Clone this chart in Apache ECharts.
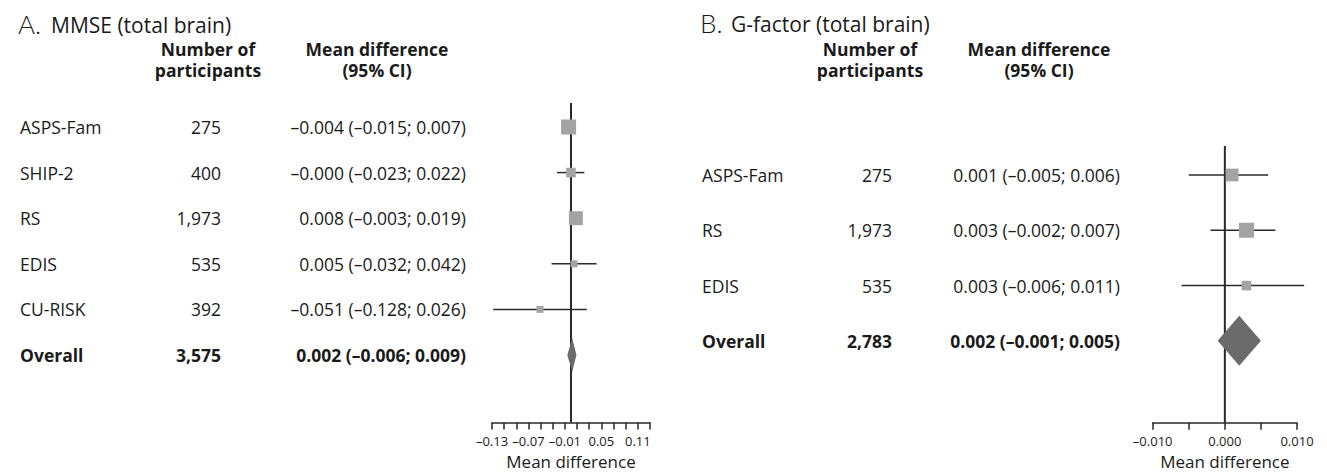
<!DOCTYPE html>
<html>
<head>
<meta charset="utf-8">
<script src="https://cdn.jsdelivr.net/npm/echarts@6/dist/echarts.min.js"></script>
<style>
html,body{margin:0;padding:0;background:#fff;}
#chart{width:1327px;height:476px;}
</style>
</head>
<body>
<div id="chart"></div>
<script>
// ---------- Panel A: MMSE (total brain) ----------
const studiesA = ['ASPS-Fam', 'SHIP-2', 'RS', 'EDIS', 'CU-RISK'];
const participantsA = [275, 400, 1973, 535, 392];
const meanA = [-0.004, -0.000, 0.008, 0.005, -0.051];
const lowerA = [-0.015, -0.023, -0.003, -0.032, -0.128];
const upperA = [0.007, 0.022, 0.019, 0.042, 0.026];
const weightA = [37, 15, 32, 8, 8];            // estimated study weights (%), box area
const overallLabelA = 'Overall';
const overallParticipantsA = 3575;
const overallA = [0.002, -0.006, 0.009];       // mean, lower, upper
const tickValuesA = [-0.13, -0.11, -0.09, -0.07, -0.05, -0.03, -0.01, 0.01, 0.03, 0.05, 0.07, 0.09, 0.11, 0.13];
const tickLabelsA = [-0.13, -0.07, -0.01, 0.05, 0.11];

// ---------- Panel B: G-factor (total brain) ----------
const studiesB = ['ASPS-Fam', 'RS', 'EDIS'];
const participantsB = [275, 1973, 535];
const meanB = [0.001, 0.003, 0.003];
const lowerB = [-0.005, -0.002, -0.006];
const upperB = [0.006, 0.007, 0.011];
const weightB = [34, 47, 19];
const overallLabelB = 'Overall';
const overallParticipantsB = 2783;
const overallB = [0.002, -0.001, 0.005];
const tickValuesB = [-0.010, -0.005, 0.000, 0.005, 0.010];
const tickLabelsB = [-0.010, 0.000, 0.010];

const titleLetterA = 'A.', titleTextA = 'MMSE (total brain)';
const titleLetterB = 'B.', titleTextB = 'G-factor (total brain)';
const headerN = ['Number of', 'participants'];
const headerMD = ['Mean difference', '(95% CI)'];
const axisName = 'Mean difference';

// ---------- helpers ----------
const FONT = '"Open Sans", "Noto Sans", sans-serif';
const TXT = '#1a1a1a';
function fmt(v, d) {
  const neg = v < 0 || Object.is(v, -0);
  return (neg ? '\u2013' : '') + Math.abs(v).toFixed(d);
}
function ci(m, lo, hi) { return fmt(m, 3) + ' (' + fmt(lo, 3) + '; ' + fmt(hi, 3) + ')'; }
function num(n) { return n.toLocaleString('en-US'); }

const chart = echarts.init(document.getElementById('chart'), null, { renderer: 'svg' });

function panel(idx, cfg) {
  const nRows = cfg.studies.length;
  const maxW = Math.max.apply(null, cfg.weight);
  const forestData = cfg.studies.map((s, i) => [cfg.mean[i], cfg.lower[i], cfg.upper[i], i, cfg.weight[i]]);
  const diamondData = [[cfg.overall[0], cfg.overall[1], cfg.overall[2], nRows]];
  const tableData = cfg.studies.concat([cfg.overallLabel]).map((s, i) => [0, i]);

  const series = [];
  series.push({
    type: 'line', xAxisIndex: idx, yAxisIndex: idx, silent: true, animation: false,
    symbol: 'none', data: [[0, cfg.yMin], [0, cfg.yMax]],
    lineStyle: { color: '#2a2a2a', width: 2 }, z: 2
  });
  series.push({
    type: 'custom', xAxisIndex: idx, yAxisIndex: idx, silent: true, animation: false, z: 3,
    data: forestData,
    renderItem: function (params, api) {
      const row = api.value(3);
      const pm = api.coord([api.value(0), row]);
      const pl = api.coord([api.value(1), row]);
      const ph = api.coord([api.value(2), row]);
      const s = cfg.maxBox * Math.sqrt(api.value(4) / maxW);
      return {
        type: 'group', children: [
          { type: 'line', shape: { x1: pl[0], y1: pl[1], x2: ph[0], y2: ph[1] }, style: { stroke: '#2a2a2a', lineWidth: 1.5 } },
          { type: 'rect', shape: { x: pm[0] - s / 2, y: pm[1] - s / 2, width: s, height: s }, style: { fill: '#a3a3a3' } }
        ]
      };
    }
  });
  series.push({
    type: 'custom', xAxisIndex: idx, yAxisIndex: idx, silent: true, animation: false, z: 4,
    data: diamondData,
    renderItem: function (params, api) {
      const row = api.value(3);
      const pm = api.coord([api.value(0), row]);
      const pl = api.coord([api.value(1), row]);
      const ph = api.coord([api.value(2), row]);
      const h = cfg.diamondHalf;
      return {
        type: 'polygon',
        shape: { points: [[pl[0], pm[1]], [pm[0], pm[1] - h], [ph[0], pm[1]], [pm[0], pm[1] + h]] },
        style: { fill: '#6b6b6b' }
      };
    }
  });
  series.push({
    type: 'custom', xAxisIndex: idx, yAxisIndex: idx, silent: true, animation: false, z: 5,
    data: tableData,
    renderItem: function (params, api) {
      const i = params.dataIndex;
      const y = api.coord([0, api.value(1)])[1];
      const isOverall = i === nRows;
      const weight = isOverall ? 'bold' : 'normal';
      const label = isOverall ? cfg.overallLabel : cfg.studies[i];
      const n = isOverall ? cfg.overallN : cfg.participants[i];
      const txt = isOverall ? ci(cfg.overall[0], cfg.overall[1], cfg.overall[2]) : ci(cfg.mean[i], cfg.lower[i], cfg.upper[i]);
      function t(str, x, align) {
        return { type: 'text', style: { text: str, x: x, y: y, fill: TXT, fontSize: cfg.fs, fontFamily: FONT, fontWeight: weight,
          align: align, verticalAlign: 'middle', textAlign: align, textVerticalAlign: 'middle' } };
      }
      return { type: 'group', children: [t(label, cfg.colLabel, 'left'), t(num(n), cfg.colN, 'right'), t(txt, cfg.colCI, 'right')] };
    }
  });
  return series;
}

const cfgA = {
  studies: studiesA, participants: participantsA, mean: meanA, lower: lowerA, upper: upperA, weight: weightA,
  overallLabel: overallLabelA, overallN: overallParticipantsA, overall: overallA,
  yMin: -0.526, yMax: 6.48, maxBox: 15, diamondHalf: 17, fs: 17.5,
  colLabel: 20, colN: 221, colCI: 466
};
const cfgB = {
  studies: studiesB, participants: participantsB, mean: meanB, lower: lowerB, upper: upperB, weight: weightB,
  overallLabel: overallLabelB, overallN: overallParticipantsB, overall: overallB,
  yMin: -0.524, yMax: 4.48, maxBox: 15, diamondHalf: 25, fs: 17.5,
  colLabel: 702, colN: 892, colCI: 1120
};

function xAxis(idx, min, max, ticks, labels, dec) {
  return {
    type: 'value', gridIndex: idx, min: min, max: max,
    splitLine: { show: false },
    axisLine: { show: true, onZero: false, lineStyle: { color: '#2a2a2a', width: 1.5 } },
    axisTick: { show: true, customValues: ticks, length: 7, lineStyle: { color: '#2a2a2a', width: 1.5 } },
    axisLabel: { customValues: labels, formatter: v => fmt(v, dec), color: TXT, fontSize: 13, fontFamily: FONT, margin: 11.5, hideOverlap: false, showMinLabel: true, showMaxLabel: true },
    name: axisName, nameLocation: 'middle', nameGap: 30, nameMoveOverlap: false,
    nameTextStyle: { fontSize: 17, fontFamily: FONT, color: TXT }
  };
}
function yAxis(idx, min, max) {
  return { type: 'value', gridIndex: idx, inverse: true, min: min, max: max, show: false };
}

function textEl(x, y, str, align, size, weight, family) {
  return { type: 'text', x: x, y: y, silent: true,
    style: { text: str, fill: TXT, fontSize: size, fontFamily: family || FONT, fontWeight: weight || 'normal',
      align: align, verticalAlign: 'middle', textAlign: align, textVerticalAlign: 'middle' } };
}

const option = {
  backgroundColor: '#fff',
  animation: false,
  grid: [
    { left: 492, top: 103, width: 158, height: 319.5, containLabel: false, outerBoundsMode: 'none' },
    { left: 1152.7, top: 146, width: 144.3, height: 276.7, containLabel: false, outerBoundsMode: 'none' }
  ],
  xAxis: [xAxis(0, -0.13, 0.13, tickValuesA, tickLabelsA, 2), xAxis(1, -0.010, 0.010, tickValuesB, tickLabelsB, 3)],
  yAxis: [yAxis(0, cfgA.yMin, cfgA.yMax), yAxis(1, cfgB.yMin, cfgB.yMax)],
  graphic: [
    textEl(18, 23.5, titleLetterA, 'left', 26, 300, '"Lato", "Open Sans", sans-serif'),
    textEl(51, 25, titleTextA, 'left', 21),
    textEl(208, 48.5, headerN[0], 'center', 17.5, 'bold'),
    textEl(208, 70, headerN[1], 'center', 17.5, 'bold'),
    textEl(377, 48.5, headerMD[0], 'center', 17.5, 'bold'),
    textEl(377, 70, headerMD[1], 'center', 17.5, 'bold'),
    textEl(700, 22.5, titleLetterB, 'left', 26, 300, '"Lato", "Open Sans", sans-serif'),
    textEl(731, 24, titleTextB, 'left', 21),
    textEl(870, 48.5, headerN[0], 'center', 17.5, 'bold'),
    textEl(870, 70, headerN[1], 'center', 17.5, 'bold'),
    textEl(1039, 48.5, headerMD[0], 'center', 17.5, 'bold'),
    textEl(1039, 70, headerMD[1], 'center', 17.5, 'bold')
  ],
  series: panel(0, cfgA).concat(panel(1, cfgB))
};
chart.setOption(option);
</script>
</body>
</html>
